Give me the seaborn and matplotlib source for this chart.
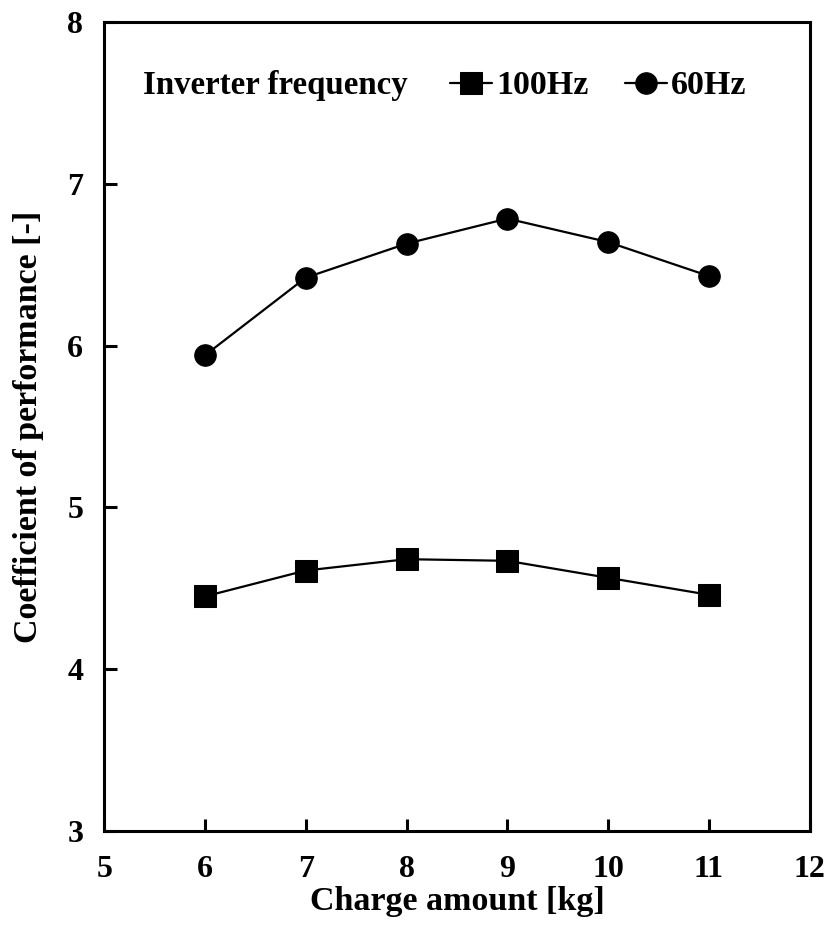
import matplotlib
matplotlib.use("Agg")
import matplotlib.pyplot as plt
import seaborn as sns
import pandas as pd

# Charge amount [kg]
charge = [6, 7, 8, 9, 10, 11]
# Coefficient of performance at each inverter frequency
cop_100hz = [4.45, 4.61, 4.68, 4.67, 4.565, 4.46]
cop_60hz = [5.94, 6.42, 6.63, 6.785, 6.64, 6.43]
series_names = ["100Hz", "60Hz"]
x_ticks = [5, 6, 7, 8, 9, 10, 11, 12]
y_ticks = [3, 4, 5, 6, 7, 8]

df = pd.DataFrame({
    "Charge": charge * 2,
    "COP": cop_100hz + cop_60hz,
    "Frequency": [series_names[0]] * len(charge) + [series_names[1]] * len(charge),
})

sns.set_theme(style="ticks", rc={
    "text.color": "black", "axes.labelcolor": "black",
    "xtick.color": "black", "ytick.color": "black",
    "axes.edgecolor": "black",
})
plt.rcParams["font.family"] = ["Liberation Serif", "DejaVu Serif"]
plt.rcParams["font.weight"] = "bold"

fig = plt.figure(figsize=(8.33, 9.25), dpi=100)
ax = fig.add_axes([0.125, 0.1016, 0.847, 0.8746])

sns.lineplot(
    data=df, x="Charge", y="COP", hue="Frequency", style="Frequency",
    markers={"100Hz": "s", "60Hz": "o"}, dashes=False,
    palette={"100Hz": "black", "60Hz": "black"},
    linewidth=1.6, markersize=15.5, markeredgecolor="black",
    ax=ax, legend=True,
)

ax.set_xlim(5, 12)
ax.set_ylim(3, 8)
ax.set_xticks(x_ticks)
ax.set_yticks(y_ticks)
ax.tick_params(axis="both", direction="in", length=9, width=2.2,
               labelsize=23, colors="black", bottom=True, left=True,
               top=False, right=False)
ax.tick_params(axis="x", pad=17)
ax.tick_params(axis="y", pad=15)
for lab in ax.get_xticklabels() + ax.get_yticklabels():
    lab.set_fontweight("bold")
for sp in ax.spines.values():
    sp.set_visible(True)
    sp.set_linewidth(2.2)
    sp.set_color("black")

ax.set_xlabel("Charge amount [kg]", fontsize=24.5, fontweight="bold",
              color="black", labelpad=2)
ax.set_ylabel("Coefficient of performance [-]", fontsize=24.5,
              fontweight="bold", color="black", labelpad=17)

# Legend: caption on the left, entries side by side
handles, labels = ax.get_legend_handles_labels()
ax.legend(handles, labels, loc="center left", bbox_to_anchor=(0.49, 0.921),
          ncol=2, frameon=False, handlelength=1.25,
          handletextpad=0.12, columnspacing=1.05, borderpad=0, borderaxespad=0,
          prop={"weight": "bold", "size": 24.5})
ax.text(0.055, 0.921, "Inverter frequency", transform=ax.transAxes,
        fontsize=23.7, fontweight="bold", va="center", ha="left", color="black")

fig.savefig("out.png", dpi=100)
